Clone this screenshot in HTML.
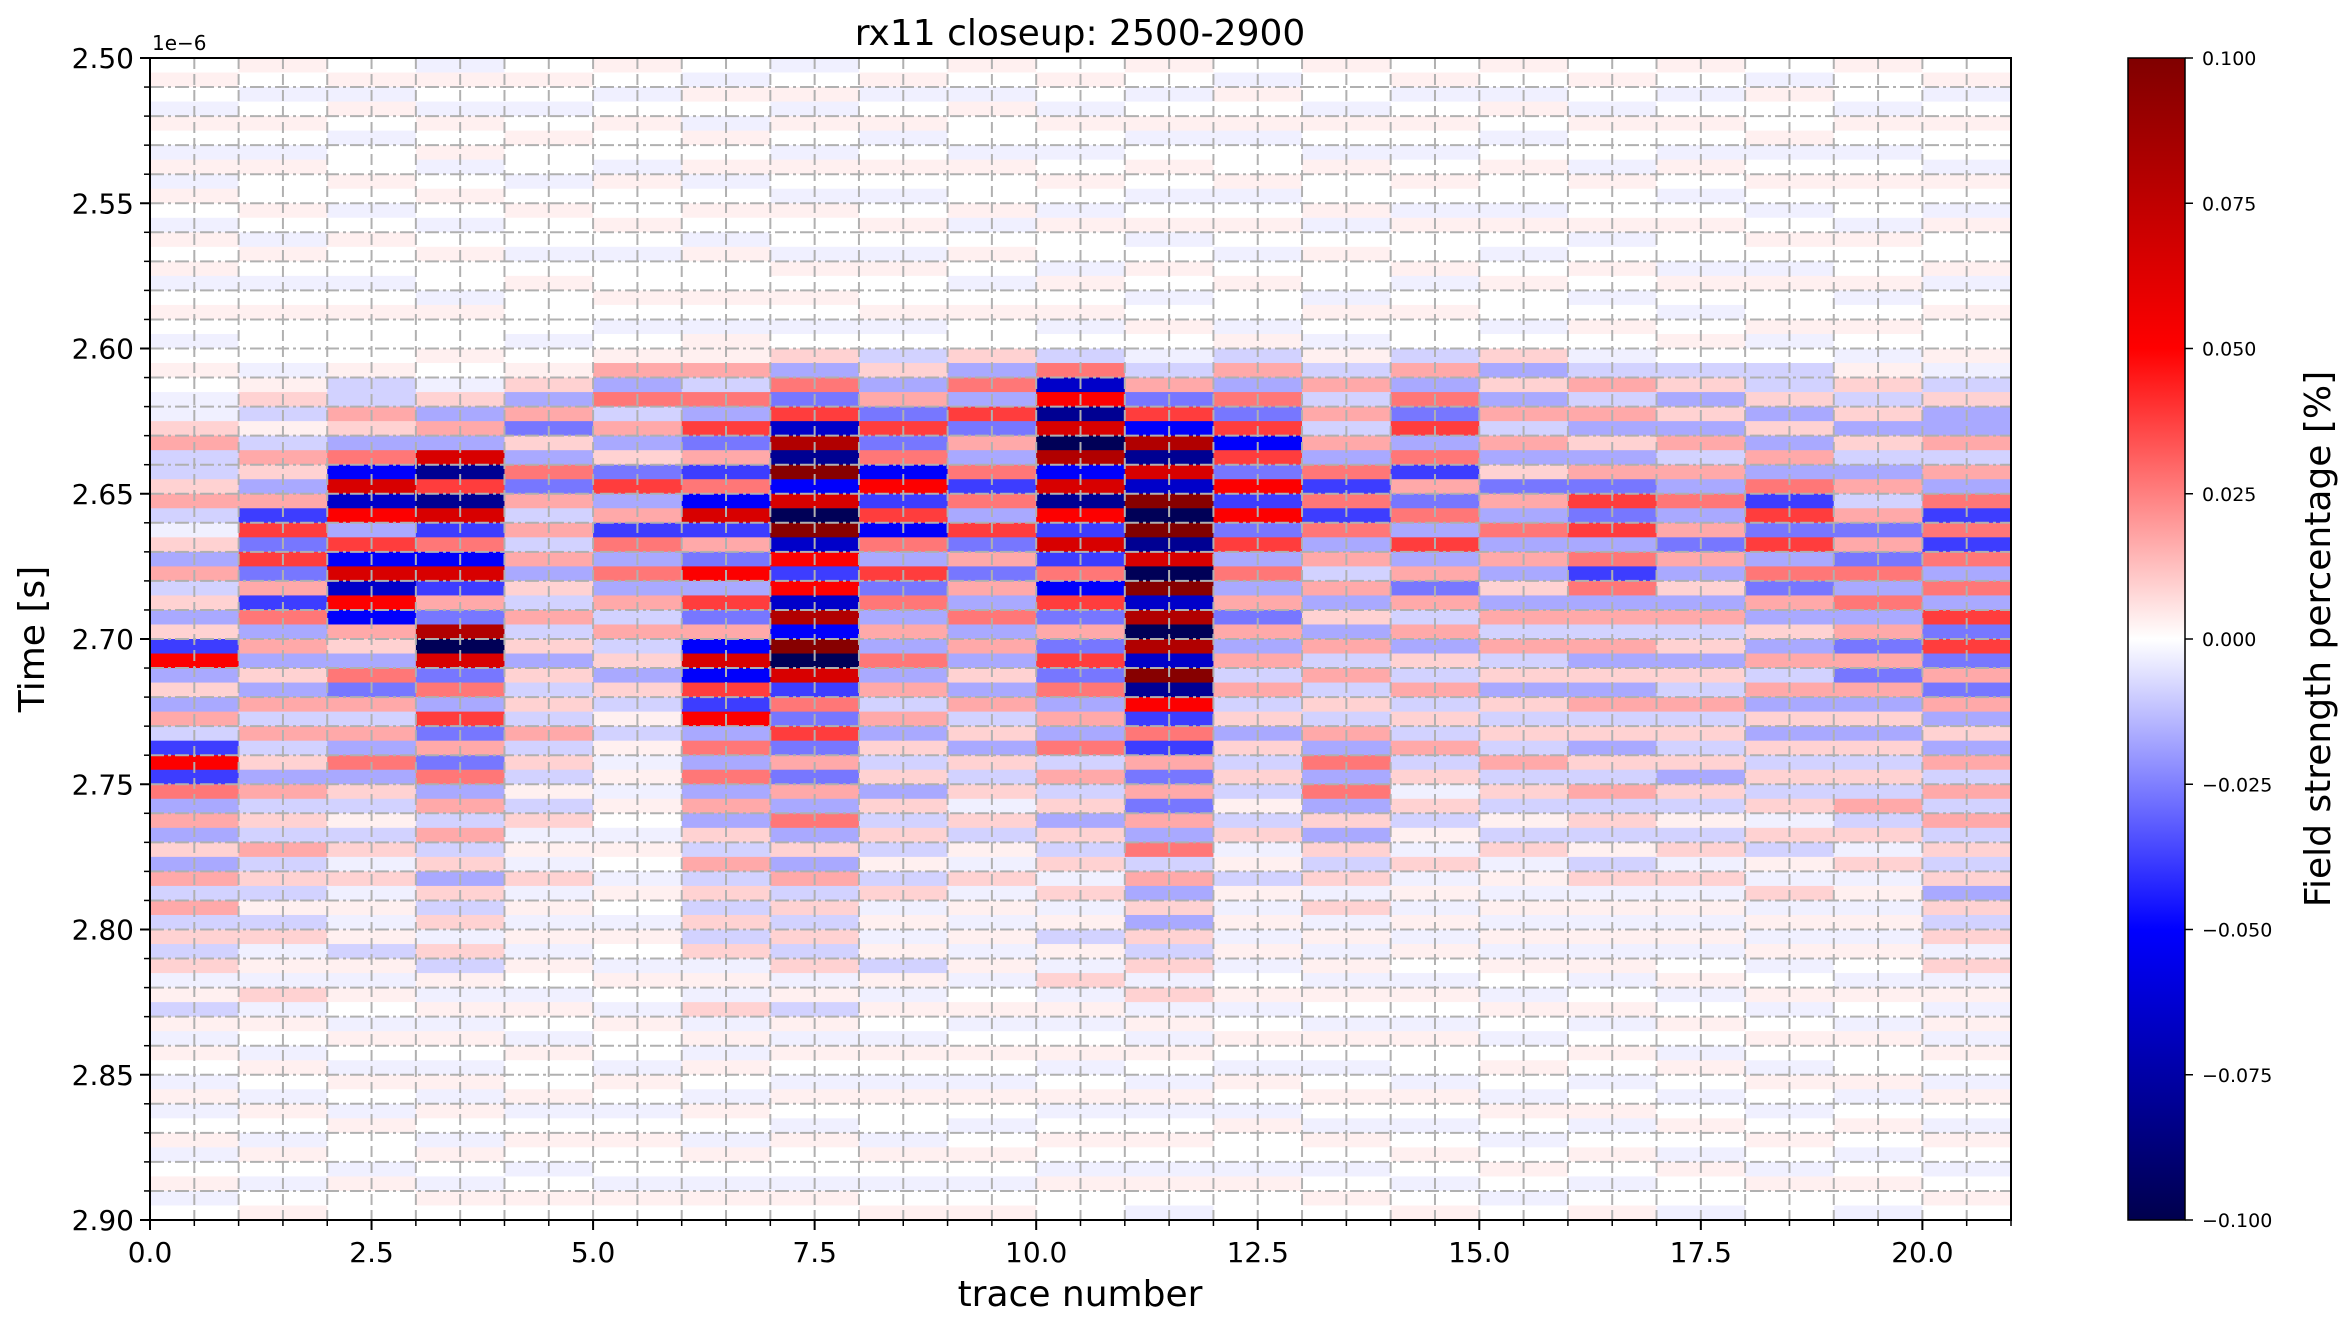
<!DOCTYPE html>
<html><head><meta charset="utf-8">
<style>
body{margin:0;background:#fff;}
svg text{font-family:"DejaVu Sans","Liberation Sans",sans-serif;fill:#000;}
</style></head>
<body>
<svg id="chart" width="2341" height="1324" viewBox="0 0 2341 1324" xmlns="http://www.w3.org/2000/svg">
<defs>
<linearGradient id="cbgrad" x1="0" y1="1" x2="0" y2="0">
<stop offset="0" stop-color="#00004d"/><stop offset="0.25" stop-color="#0000ff"/><stop offset="0.5" stop-color="#ffffff"/><stop offset="0.75" stop-color="#ff0000"/><stop offset="1" stop-color="#800000"/>
</linearGradient>
<clipPath id="plotclip"><rect x="150" y="58" width="1861" height="1162"/></clipPath>
</defs>
<g id="heat" clip-path="url(#plotclip)"></g>
<g id="grid"></g>
<rect x="150" y="58" width="1861" height="1162" fill="none" stroke="#000" stroke-width="2"/>
<g id="axes"></g>
<text x="1080" y="45" font-size="36" text-anchor="middle">rx11 closeup: 2500-2900</text>
<text x="1080" y="1306" font-size="36" text-anchor="middle">trace number</text>
<text transform="translate(44,639) rotate(-90)" font-size="36" text-anchor="middle">Time [s]</text>
<text x="152" y="50" font-size="20">1e−6</text>
<rect x="2128" y="58" width="57" height="1162" fill="url(#cbgrad)" stroke="#000" stroke-width="1.5"/>
<g id="cbaxis"></g>
<text transform="translate(2330,639) rotate(-90)" font-size="36" text-anchor="middle">Field strength percentage [%]</text>
</svg>
<script>
const T0 = 2.50, DT = 0.005;
const xTicks = [0, 2.5, 5, 7.5, 10, 12.5, 15, 17.5, 20];
const xTickLabels = ["0.0","2.5","5.0","7.5","10.0","12.5","15.0","17.5","20.0"];
const yTicks = [2.50,2.55,2.60,2.65,2.70,2.75,2.80,2.85,2.90];
const yTickLabels = ["2.50","2.55","2.60","2.65","2.70","2.75","2.80","2.85","2.90"];
const cbTicks = [-0.1,-0.075,-0.05,-0.025,0,0.025,0.05,0.075,0.1];
const cbTickLabels = ["−0.100","−0.075","−0.050","−0.025","0.000","0.025","0.050","0.075","0.100"];
const tr0=[0,1,0,-1,1,0,-1,1,-1,1,0,-1,1,0,1,-1,0,1,0,-1,0,1,0,-1,-1,2,3,-2,-2,2,3,-2,-1,2,-3,3,-2,2,-3,2,-5,6,-3,2,-3,3,-2,-5,6,-5,4,-3,3,-3,2,-3,3,-2,3,-2,2,-2,2,-1,1,-2,1,-1,1,0,-1,1,-1,0,1,-1,0,1,-1,0];
const tr1=[1,0,-1,0,1,0,-1,1,0,0,1,0,-1,1,0,-1,0,1,0,0,0,-1,1,2,-2,1,-2,3,2,-3,3,-5,5,-4,5,-4,3,-5,4,-3,3,-3,2,-3,3,-2,3,-2,2,-3,3,-2,2,-2,3,-2,2,-2,1,-2,2,-1,1,-1,2,-1,1,0,-1,1,0,-1,1,0,-1,1,0,-1,0,1];
const tr2=[0,1,-1,1,0,-1,0,0,1,0,-1,0,1,0,0,-1,0,1,0,0,0,1,-2,-2,3,2,-3,4,-6,7,-7,6,-3,5,-6,7,-7,6,-6,3,2,-3,4,-4,3,-2,3,-3,4,-3,2,-2,1,-2,2,-1,2,-1,1,-1,1,-2,1,-1,1,0,-1,1,0,-1,1,0,-1,1,0,0,-1,1,0,0];
const tr3=[-1,1,0,-1,1,0,1,-1,0,1,0,-1,0,1,0,0,-1,1,0,0,1,0,-1,2,-3,3,-3,7,-8,5,-8,7,-5,4,-6,7,-5,3,-4,8,-9,7,-4,4,-3,5,-4,3,-4,4,-3,3,-2,3,-2,2,-3,2,-2,2,-1,2,-2,1,-1,1,-1,1,0,-1,1,-1,1,0,-1,1,0,-1,1,0];
const tr4=[0,1,0,-1,0,1,0,0,-1,0,1,0,0,-1,0,1,0,0,0,-1,0,1,2,-3,3,-4,2,-3,4,-4,3,-2,3,-2,3,-3,2,-2,3,-2,2,-3,2,-2,2,-2,3,-2,2,-2,1,-2,2,-1,1,-1,2,-1,1,-1,1,-1,1,0,-1,1,0,-1,1,0,0,1,-1,0,1,0,-1,0,1,0];
const tr5=[1,0,-1,0,1,0,0,-1,1,0,0,1,0,-1,0,0,1,0,-1,0,1,3,-3,4,-2,3,-3,2,-4,5,-3,3,-5,4,-3,4,-3,3,-2,3,-2,2,-3,2,-2,1,-2,1,-1,1,-1,1,0,-1,1,0,-1,1,0,-1,1,0,-1,1,0,-1,1,0,0,-1,1,0,-1,0,1,0,0,-1,1,0];
const tr6=[0,-1,1,0,-1,1,0,1,-1,0,1,0,-1,1,0,0,1,0,-1,1,1,3,-2,4,-3,5,-4,3,-5,4,-6,7,-5,3,-4,6,-3,5,-4,3,-6,7,-6,5,-5,6,-3,4,-3,4,-3,3,-3,2,-2,3,-2,2,-2,2,-2,2,-1,1,-1,2,-1,1,-1,1,0,-1,1,0,-1,1,0,-1,1,0];
const tr7=[-1,0,1,-1,1,0,-1,1,0,-1,1,0,0,-1,1,0,1,0,-1,0,2,-3,4,-4,5,-7,8,-8,9,-6,7,-9,9,-7,6,-5,6,-7,8,-6,9,-9,7,-5,4,-4,5,-4,3,-4,3,-3,4,-3,2,-3,3,-2,2,-2,2,-2,2,-1,1,-2,1,-1,1,0,-1,1,0,-1,1,0,0,-1,1,0];
const tr8=[0,1,-1,0,1,-1,0,1,0,-1,0,1,0,-1,1,0,0,1,-1,0,-2,2,-3,3,-4,5,-4,4,-6,6,-5,5,-6,4,-3,5,-4,4,-3,3,-3,4,-3,3,-2,3,-3,2,-2,2,-3,2,-2,2,-2,1,-2,2,-1,1,-1,1,-2,1,-1,1,0,-1,1,0,-1,1,0,0,-1,1,0,-1,0,1];
const tr9=[1,0,-1,1,0,0,-1,1,0,0,1,-1,0,1,0,-1,0,1,0,0,2,-3,4,-3,5,-4,3,-3,4,-5,4,-3,5,-4,3,-4,3,-3,4,-3,3,-3,2,-3,3,-2,2,-3,2,-2,2,-1,2,-2,1,-1,2,-1,1,-1,1,-1,1,-1,0,1,-1,0,1,0,-1,1,0,-1,0,1,0,-1,0,1];
const tr10=[0,1,0,-1,1,0,-1,0,1,0,-1,1,0,0,-1,1,0,1,-1,0,-2,4,-7,6,-8,7,-9,8,-6,7,-8,6,-5,7,-5,4,-6,5,-4,3,-4,5,-4,4,-3,3,-3,4,-2,3,-2,2,-3,2,-2,2,-1,2,-1,1,-2,1,-1,2,-1,1,-1,0,1,-1,0,1,-1,0,1,0,-1,1,0,0];
const tr11=[1,0,-1,0,1,-1,0,1,0,-1,0,1,-1,0,1,0,-1,0,1,0,-1,-2,3,-4,5,-6,8,-8,7,-7,9,-9,10,-8,7,-9,9,-7,8,-9,8,-7,9,-8,6,-5,4,-5,3,-4,3,-4,3,-3,4,-2,3,-3,2,-3,2,-2,2,-1,2,-1,1,-1,1,0,-1,1,-1,0,1,0,-1,1,0,-1];
const tr12=[0,-1,1,0,1,-1,0,0,1,-1,0,1,0,-1,0,1,0,0,-1,1,-2,3,-3,4,-4,5,-6,5,-4,6,-5,6,-4,5,-3,4,-3,3,-4,3,-3,3,-2,3,-2,2,-3,2,-2,2,-2,1,-2,2,-1,1,-2,1,-1,1,-1,1,-1,0,1,-1,0,1,0,-1,1,0,-1,1,0,0,-1,1,0,0];
const tr13=[1,0,0,-1,1,0,-1,1,0,0,1,-1,0,1,0,0,-1,1,0,-1,1,-2,3,-2,3,-2,3,-3,4,-5,4,-5,4,-3,3,-2,3,-3,2,-3,3,-2,3,-2,2,-2,3,-3,4,-3,4,-3,2,-3,2,-2,2,-1,2,-1,1,-1,1,-1,1,0,-1,1,0,-1,0,1,0,-1,1,0,-1,0,1,0];
const tr14=[0,1,-1,0,1,0,-1,0,1,0,-1,1,0,0,1,-1,0,1,0,0,-2,3,-3,4,-4,5,-3,4,-5,3,-4,4,-3,5,-3,3,-4,3,-2,3,-3,2,-2,3,-2,2,-2,3,-2,2,-1,2,-2,1,-1,2,-1,1,-1,1,-1,1,0,-1,1,0,-1,1,0,0,-1,1,0,-1,0,1,0,-1,0,1];
const tr15=[1,0,-1,1,0,-1,0,1,0,0,-1,1,0,-1,0,1,0,0,-1,0,2,-3,2,-3,3,-2,3,-3,2,-4,3,-3,4,-3,3,-3,2,-3,3,-2,3,-2,2,-3,2,-2,2,-2,3,-2,2,-2,1,-2,2,-1,1,-1,1,-1,1,-1,1,0,-1,1,0,-1,0,1,0,-1,1,0,-1,0,1,0,-1,0];
const tr16=[0,1,0,-1,1,0,0,-1,1,0,0,1,-1,0,1,0,-1,0,1,0,-1,-2,3,-2,3,-3,2,-3,3,-4,5,-4,5,-3,4,-5,4,-3,3,-2,3,-3,2,-3,3,-2,2,-3,2,-2,3,-2,2,-2,1,-2,2,-1,1,-1,1,-1,1,-1,0,1,-1,0,1,0,-1,0,1,-1,0,1,0,-1,0,1];
const tr17=[1,0,-1,0,1,0,-1,1,0,-1,0,1,0,0,-1,1,0,-1,0,1,0,-2,2,-3,2,-3,3,-2,3,-3,4,-3,3,-4,3,-3,2,-3,3,-2,2,-3,2,-2,3,-2,2,-2,2,-3,2,-2,1,-2,2,-1,2,-1,1,-1,1,-1,0,1,-1,0,1,0,-1,1,0,-1,0,1,0,-1,1,0,0,-1];
const tr18=[0,-1,1,0,0,1,-1,0,1,0,-1,0,1,0,-1,1,0,0,1,-1,0,-2,-2,2,-3,2,-3,3,-3,4,-5,5,-4,5,-3,4,-4,3,-3,2,-3,3,-2,3,-3,2,-3,2,-2,2,-2,2,-1,2,-2,1,-1,2,-1,1,-1,1,-1,0,1,-1,0,1,0,-1,1,0,-1,0,1,0,-1,1,0,0];
const tr19=[1,0,0,-1,1,0,-1,0,1,0,0,-1,1,0,0,1,-1,0,1,0,-1,1,2,-2,2,-3,2,-2,-3,3,-2,3,-4,3,-4,4,-3,4,-3,3,-4,3,-4,3,-3,2,-3,2,-2,2,-2,3,-2,2,-1,2,-1,1,-1,1,-1,1,0,-1,1,0,-1,1,0,0,1,-1,0,1,0,-1,0,1,0,-1];
const tr20=[0,1,-1,0,1,0,0,-1,1,0,-1,1,0,0,1,-1,0,1,0,0,1,-1,-2,2,-3,-3,3,-2,3,-3,4,-5,4,-5,4,-3,4,-3,5,-4,5,-4,3,-4,3,-3,2,-3,3,-2,3,-2,3,-2,2,-2,2,-3,2,-2,2,-1,2,-1,1,-1,1,-1,1,0,-1,1,0,-1,1,0,-1,0,1,0];
const traces=[tr0,tr1,tr2,tr3,tr4,tr5,tr6,tr7,tr8,tr9,tr10,tr11,tr12,tr13,tr14,tr15,tr16,tr17,tr18,tr19,tr20];
const VMAX = 10; // values in units of 0.01 %

const NS="http://www.w3.org/2000/svg";
const PL=150, PR=2011, PT=58, PB=1220;
const xS = v => PL + (v/21)*(PR-PL);
const yS = t => PT + (t-2.50)/0.40*(PB-PT);
const cbY = v => PB - (v+0.1)/0.2*(PB-PT);
function mk(tag, attrs){const e=document.createElementNS(NS,tag);for(const k in attrs)e.setAttribute(k,attrs[k]);return e;}
function color(v){
  // perceived amplitude is softer than raw estimate: compress
  let n=Math.max(-1,Math.min(1,v/VMAX));
  const s=Math.sign(n); n=s*Math.pow(Math.abs(n),1.6)*1.15; n=Math.max(-1,Math.min(1,n));
  let r,g,b;
  if(n>=0){ if(n<=0.5){const f=n/0.5;r=255;g=b=255*(1-f);} else {const f=(n-0.5)/0.5;r=255-127*f;g=b=0;} }
  else { const m=-n; if(m<=0.5){const f=m/0.5;b=255;r=g=255*(1-f);} else {const f=(m-0.5)/0.5;b=255-178*f;r=g=0;} }
  return `rgb(${r|0},${g|0},${b|0})`;
}
const heat=document.getElementById('heat');
traces.forEach((arr,ti)=>{
  arr.forEach((v,ri)=>{
    const t=T0+ri*DT;
    const r=mk('rect',{x:xS(ti),y:yS(t),width:xS(ti+1)-xS(ti)+0.5,height:yS(t+DT)-yS(t)+0.5,fill:color(v)});
    
    
    heat.appendChild(r);
  });
});
const grid=document.getElementById('grid');
for(let k=1;k<42;k++){
  const x=xS(k*0.5);
  const l=mk('line',{x1:x,x2:x,y1:PT,y2:PB,stroke:'#b0b0b0','stroke-width':2,'stroke-dasharray':'11,5'});
  
  
  grid.appendChild(l);
}
for(let k=1;k<40;k++){
  const y=yS(2.50+k*0.01);
  const l=mk('line',{x1:PL,x2:PR,y1:y,y2:y,stroke:'#b0b0b0','stroke-width':2,'stroke-dasharray':'14,4,3,4'});
  
  
  grid.appendChild(l);
}
const axes=document.getElementById('axes');
xTicks.forEach((v,i)=>{
  const x=xS(v);
  const t=mk('line',{x1:x,x2:x,y1:PB,y2:PB+10,stroke:'#000','stroke-width':2});
  
  
  axes.appendChild(t);
  const tx=mk('text',{x:x,y:PB+42,'font-size':28,'text-anchor':'middle'});
  tx.textContent=xTickLabels[i];
  
  
  axes.appendChild(tx);
});
for(let k=0;k<=42;k++){
  const x=xS(k*0.5);
  const t=mk('line',{x1:x,x2:x,y1:PB,y2:PB+6,stroke:'#000','stroke-width':1.5});
  
  
  axes.appendChild(t);
}
for(let k=0;k<=40;k++){
  const y=yS(2.50+k*0.01);
  const t=mk('line',{x1:PL-6,x2:PL,y1:y,y2:y,stroke:'#000','stroke-width':1.5});
  
  
  axes.appendChild(t);
}
yTicks.forEach((v,i)=>{
  const y=yS(v);
  const t=mk('line',{x1:PL-10,x2:PL,y1:y,y2:y,stroke:'#000','stroke-width':2});
  
  
  axes.appendChild(t);
  const tx=mk('text',{x:PL-16,y:y+10,'font-size':28,'text-anchor':'end'});
  tx.textContent=yTickLabels[i];
  
  
  axes.appendChild(tx);
});
const cb=document.getElementById('cbaxis');
cbTicks.forEach((v,i)=>{
  const y=cbY(v);
  const t=mk('line',{x1:2185,x2:2193,y1:y,y2:y,stroke:'#000','stroke-width':1.5});
  
  
  cb.appendChild(t);
  const tx=mk('text',{x:2202,y:y+7,'font-size':19});
  tx.textContent=cbTickLabels[i];
  
  
  cb.appendChild(tx);
});
</script>
</body></html>
